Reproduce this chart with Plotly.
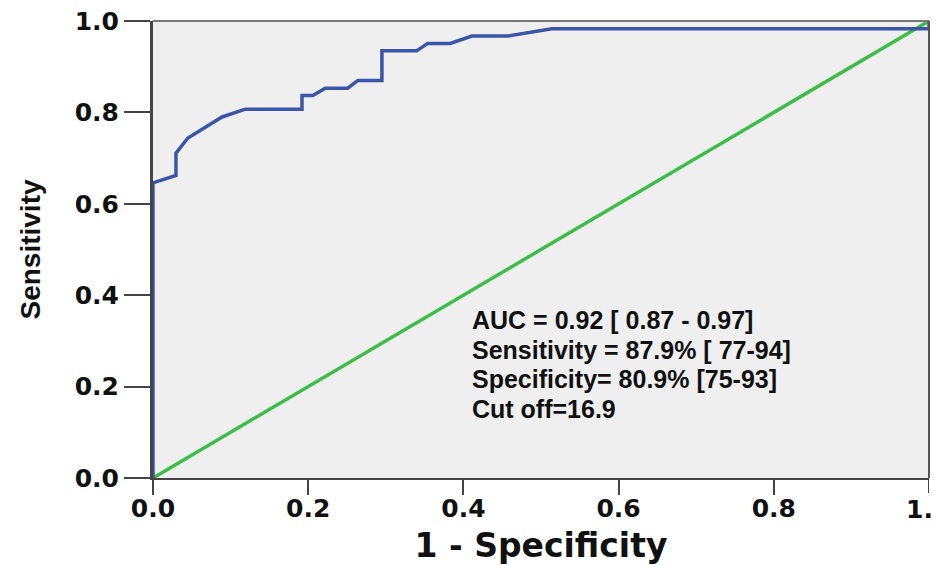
import plotly.graph_objects as go

# ROC curve (1 - specificity, sensitivity)
fpr = [0.0, 0.0, 0.0296, 0.0296, 0.045, 0.089, 0.119, 0.192, 0.192, 0.206, 0.222,
       0.251, 0.264, 0.295, 0.295, 0.340, 0.354, 0.383, 0.411, 0.457, 0.514, 1.0, 1.0]
tpr = [0.0, 0.646, 0.662, 0.711, 0.744, 0.790, 0.807, 0.807, 0.837, 0.837, 0.853,
       0.853, 0.870, 0.870, 0.935, 0.935, 0.951, 0.951, 0.967, 0.967, 0.983, 0.983, 1.0]
ref_x = [0.0, 1.0]
ref_y = [0.0, 1.0]
tick_vals = [0.0, 0.2, 0.4, 0.6, 0.8, 1.0]
tick_text = ["0.0", "0.2", "0.4", "0.6", "0.8", "1.0"]
edge_label = "1."   # the last x label is cut by the page edge in the reference
stats_lines = ["AUC = 0.92 [ 0.87 - 0.97]",
               "Sensitivity = 87.9% [ 77-94]",
               "Specificity= 80.9% [75-93]",
               "Cut off=16.9"]
stats_y = [0.346, 0.281, 0.216, 0.151]

fig = go.Figure()
fig.add_trace(go.Scatter(x=ref_x, y=ref_y, mode="lines",
                         line=dict(color="#3dbd48", width=3.5), showlegend=False,
                         cliponaxis=False))
fig.add_trace(go.Scatter(x=fpr, y=tpr, mode="lines",
                         line=dict(color="#3b56a9", width=3.5), showlegend=False,
                         cliponaxis=False))

for line, yy in zip(stats_lines, stats_y):
    fig.add_annotation(x=0.409, y=yy, xref="x", yref="y", xanchor="left", yanchor="middle",
                       text="<b>%s</b>" % line, showarrow=False, align="left",
                       font=dict(family="Liberation Sans, Arial", size=25, color="#111111"))

tick_font = dict(family="DejaVu Sans, Verdana", size=25, color="#111111")

fig.add_annotation(x=1.0, y=0.0, xref="paper", yref="paper", xanchor="left", yanchor="middle",
                   xshift=-25, yshift=-31, text="<b>%s</b>" % edge_label, showarrow=False,
                   font=tick_font)

fig.update_xaxes(range=[0, 1], tickvals=tick_vals[:-1],
                 ticktext=["<b>%s</b>" % t for t in tick_text[:-1]],
                 ticks="outside", ticklen=15, tickwidth=2, tickcolor="#444444",
                 ticklabelstandoff=-8,
                 showline=True, linecolor="#444444", linewidth=2, mirror=False,
                 showgrid=False, zeroline=False, tickfont=tick_font,
                 title=dict(text="<b>1 - Specificity</b>", standoff=12,
                            font=dict(family="DejaVu Sans, Verdana", size=33, color="#111111")))
# tick mark at 1.0 (label drawn as the edge annotation above)
fig.add_shape(type="line", xref="x", yref="paper", x0=1.0, x1=1.0, y0=0, y1=-15 / 460,
              line=dict(color="#444444", width=2))
fig.update_yaxes(range=[0, 1], tickvals=tick_vals, ticktext=["<b>%s</b>" % t for t in tick_text],
                 ticks="outside", ticklen=26, tickwidth=2, tickcolor="#444444",
                 showline=True, linecolor="#444444", linewidth=3,
                 showgrid=False, zeroline=False, tickfont=tick_font,
                 title=dict(text="<b>Sensitivity</b>", standoff=26,
                            font=dict(family="Liberation Sans, Arial", size=28, color="#111111")))

# top and right borders of the plot area
fig.add_shape(type="line", xref="paper", yref="paper", x0=0, x1=1, y0=1, y1=1,
              line=dict(color="#777777", width=2))
fig.add_shape(type="line", xref="paper", yref="paper", x0=1, x1=1, y0=0, y1=1,
              line=dict(color="#555555", width=2))

fig.update_layout(width=936, height=565, margin=dict(l=153, r=7, t=20, b=85),
                  plot_bgcolor="#efefef", paper_bgcolor="white")

page_js = ("document.body.style.margin='0';"
           "document.body.style.overflow='hidden';"
           "document.documentElement.style.overflow='hidden';")
fig.write_html("out.html", post_script=page_js, config={"displayModeBar": False})
